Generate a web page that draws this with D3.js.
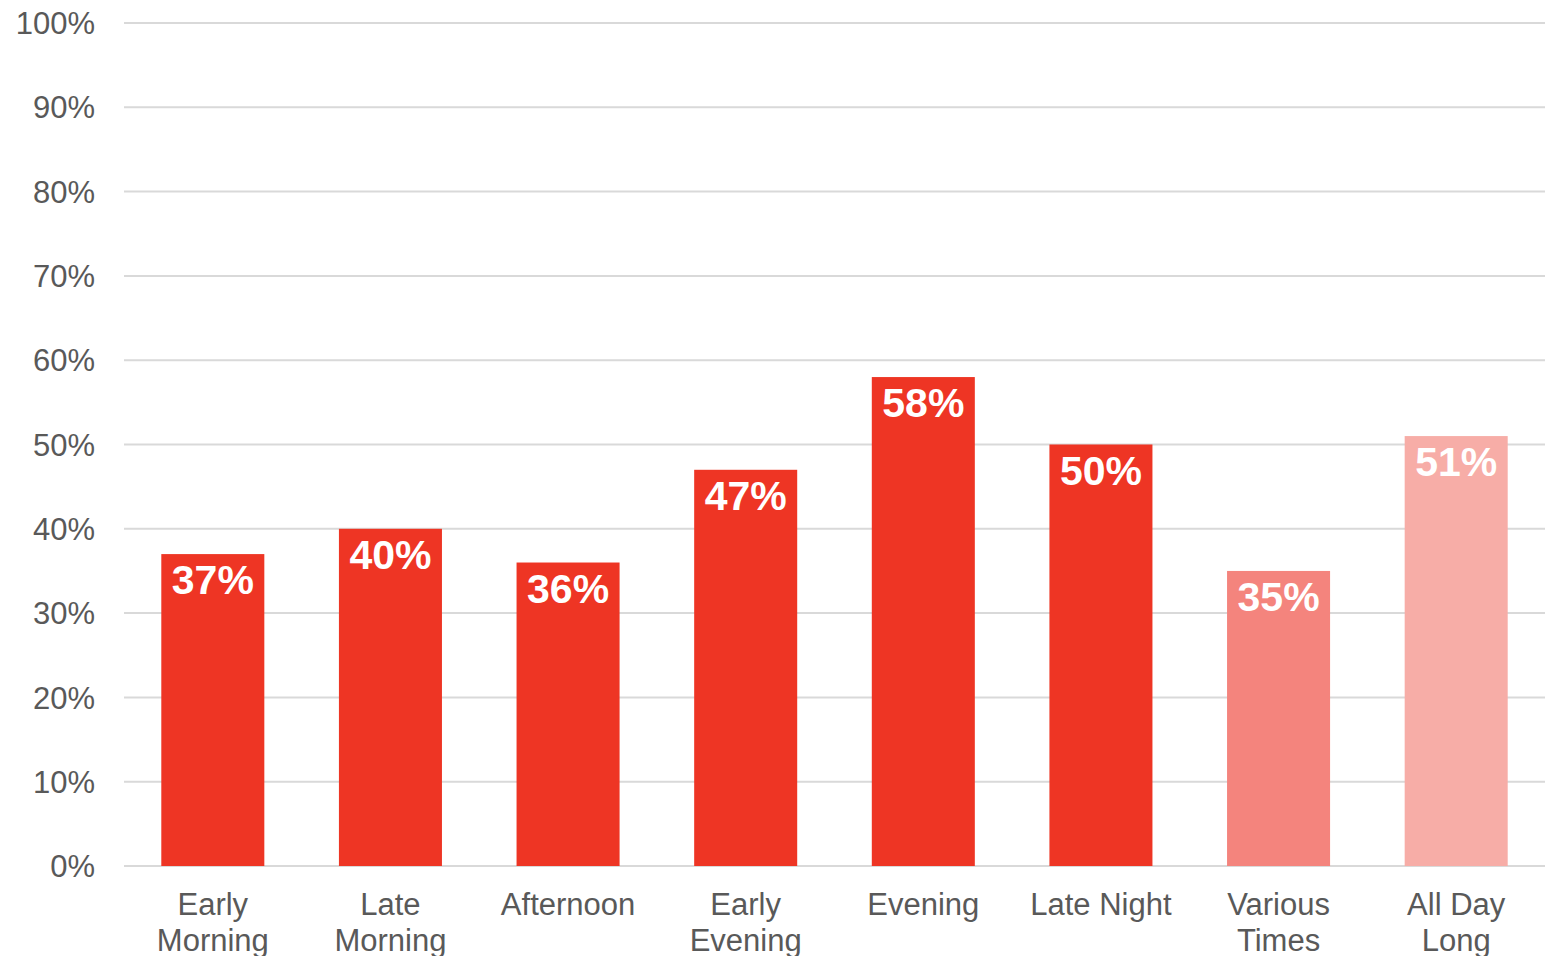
<!DOCTYPE html>
<html>
<head>
<meta charset="utf-8">
<script src="https://cdn.jsdelivr.net/npm/d3@7"></script>
<style>
  html, body { margin: 0; padding: 0; background: #fff; }
  svg { display: block; }
</style>
</head>
<body>
<svg id="chart" width="1547" height="956"></svg>
<script>
// Share of respondents by time of day
const categories = [
  ["Early", "Morning"],
  ["Late", "Morning"],
  ["Afternoon"],
  ["Early", "Evening"],
  ["Evening"],
  ["Late Night"],
  ["Various", "Times"],
  ["All Day", "Long"]
];
const values = [37, 40, 36, 47, 58, 50, 35, 51];
const barColors = ["#EE3524", "#EE3524", "#EE3524", "#EE3524", "#EE3524", "#EE3524", "#F4847D", "#F7ADA7"];
const yTicks = [0, 10, 20, 30, 40, 50, 60, 70, 80, 90, 100];

const svg = d3.select("#chart");
const margin = { left: 124, right: 2, top: 23, bottom: 90 };
const W = 1547, H = 956;
const font = "'Liberation Sans', Arial, sans-serif";

const x = d3.scaleBand()
  .domain(d3.range(values.length))
  .range([margin.left, W - margin.right])
  .paddingInner(0.42)
  .paddingOuter(0.21);

const y = d3.scaleLinear()
  .domain([0, 100])
  .range([H - margin.bottom, margin.top]);

// gridlines
svg.append("g")
  .selectAll("line")
  .data(yTicks)
  .join("line")
  .attr("x1", margin.left)
  .attr("x2", W - margin.right)
  .attr("y1", d => y(d))
  .attr("y2", d => y(d))
  .attr("stroke", "#D9D9D9")
  .attr("stroke-width", 2);

// y-axis tick labels
svg.append("g")
  .selectAll("text")
  .data(yTicks)
  .join("text")
  .attr("x", 95)
  .attr("y", d => y(d))
  .attr("dy", "0.36em")
  .attr("text-anchor", "end")
  .attr("font-family", font)
  .attr("font-size", 31)
  .attr("fill", "#595959")
  .text(d => d + "%");

// bars
svg.append("g")
  .selectAll("rect")
  .data(values)
  .join("rect")
  .attr("x", (d, i) => x(i))
  .attr("width", x.bandwidth())
  .attr("y", d => y(d))
  .attr("height", d => y(0) - y(d))
  .attr("fill", (d, i) => barColors[i]);

// value labels inside bar tops
svg.append("g")
  .selectAll("text")
  .data(values)
  .join("text")
  .attr("x", (d, i) => x(i) + x.bandwidth() / 2)
  .attr("y", d => y(d) + 40)
  .attr("text-anchor", "middle")
  .attr("font-family", font)
  .attr("font-weight", "bold")
  .attr("font-size", 41)
  .attr("fill", "#FFFFFF")
  .text(d => d + "%");

// category labels
const cat = svg.append("g")
  .selectAll("text")
  .data(categories)
  .join("text")
  .attr("x", (d, i) => x(i) + x.bandwidth() / 2)
  .attr("y", 915)
  .attr("text-anchor", "middle")
  .attr("font-family", font)
  .attr("font-size", 31)
  .attr("fill", "#595959");

cat.selectAll("tspan")
  .data(d => d)
  .join("tspan")
  .attr("x", function () { return d3.select(this.parentNode).attr("x"); })
  .attr("dy", (d, i) => i === 0 ? 0 : 36)
  .text(d => d);
</script>
</body>
</html>
